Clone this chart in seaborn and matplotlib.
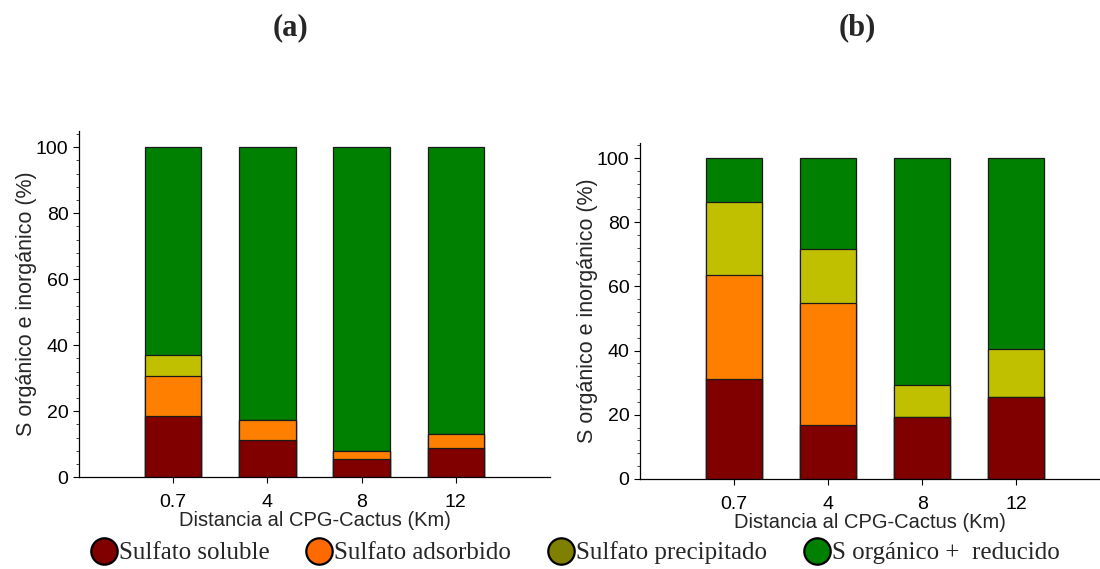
import matplotlib
matplotlib.use("Agg")
import matplotlib.pyplot as plt
from matplotlib.lines import Line2D
from matplotlib.ticker import AutoMinorLocator
import numpy as np
import pandas as pd
import seaborn as sns

# ---------------- data ----------------
distances = ["0.7", "4", "8", "12"]
series_names = ["Sulfato soluble", "Sulfato adsorbido", "Sulfato precipitado", "S orgánico +  reducido"]

# panel (a) percentages
a_soluble = [18.7, 11.3, 5.4, 9.0]
a_adsorbido = [12.0, 5.9, 2.6, 4.2]
a_precipitado = [6.2, 0.0, 0.0, 0.0]
a_organico = [63.1, 82.8, 92.0, 86.8]

# panel (b) percentages
b_soluble = [31.2, 16.8, 19.3, 25.6]
b_adsorbido = [32.3, 38.0, 0.0, 0.0]
b_precipitado = [22.7, 16.9, 10.0, 14.9]
b_organico = [13.8, 28.3, 70.7, 59.5]

bar_colors = ["#800000", "#FF8000", "#C0C000", "#008000"]
legend_colors = ["#800000", "#FF6A00", "#808000", "#008000"]

xlabel = "Distancia al CPG-Cactus (Km)"
ylabel = "S orgánico e inorgánico (%)"
titles = ["(a)", "(b)"]

# ---------------- plotting ----------------
sns.set_style("ticks")
plt.rcParams["font.family"] = ["Liberation Sans", "DejaVu Sans"]

fig = plt.figure(figsize=(11, 5.69), dpi=100)
ax_a = fig.add_axes([0.0718, 0.1612, 0.4282, 0.6086])
ax_b = fig.add_axes([0.5818, 0.1582, 0.4182, 0.5905])


def draw_panel(ax, layers, xlim, ytop):
    cum = np.cumsum(np.array(layers), axis=0)
    # draw from top (largest cumulative) to bottom
    for i in range(len(layers) - 1, -1, -1):
        df = pd.DataFrame({"dist": distances, "val": cum[i]})
        sns.barplot(data=df, x="dist", y="val", order=distances, color=bar_colors[i],
                    saturation=1, width=0.6, edgecolor="#1a1a1a", linewidth=0.9, ax=ax,
                    errorbar=None)
    ax.set_xlim(*xlim)
    ax.set_ylim(0, ytop)
    ax.set_yticks([0, 20, 40, 60, 80, 100])
    ax.yaxis.set_minor_locator(AutoMinorLocator(5))
    ax.tick_params(axis="both", which="major", labelsize=14, length=4, width=0.8,
                   direction="out", colors="black")
    ax.tick_params(axis="x", which="major", pad=8)
    ax.tick_params(axis="y", which="minor", length=2, width=0.6)
    ax.set_xlabel(xlabel, fontsize=14.5, labelpad=0)
    ax.set_ylabel(ylabel, fontsize=15.5, labelpad=-1)
    for s in ["top", "right"]:
        ax.spines[s].set_visible(False)
    for s in ["left", "bottom"]:
        ax.spines[s].set_linewidth(0.9)
        ax.spines[s].set_color("black")


draw_panel(ax_a, [a_soluble, a_adsorbido, a_precipitado, a_organico], (-1.0, 4.0), 104.9)
draw_panel(ax_b, [b_soluble, b_adsorbido, b_precipitado, b_organico], (-1.0, 3.89), 104.7)

fig.text(290 / 1100, 1 - 28 / 569, titles[0], fontsize=22, fontweight="bold",
         family="Liberation Serif", ha="center", va="center")
fig.text(857 / 1100, 1 - 28 / 569, titles[1], fontsize=22, fontweight="bold",
         family="Liberation Serif", ha="center", va="center")

handles = [Line2D([0], [0], marker="o", linestyle="none", markersize=19,
                  markerfacecolor=c, markeredgecolor="black", markeredgewidth=1.6)
           for c in legend_colors]
fig.legend(handles, series_names, loc="center", bbox_to_anchor=(0.5227, 1 - 553 / 569),
           ncol=4, frameon=False, prop={"family": "Liberation Serif", "size": 18},
           handletextpad=0.05, columnspacing=1.45, borderaxespad=0, handlelength=1.1)

fig.savefig("out.png", dpi=100)
